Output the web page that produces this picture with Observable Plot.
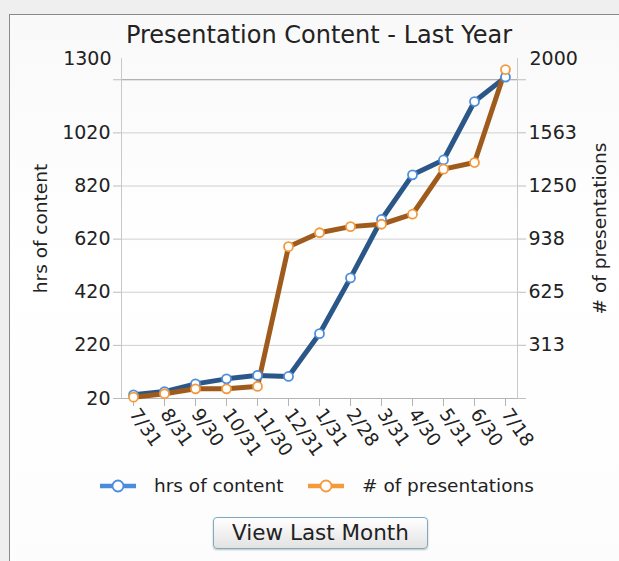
<!DOCTYPE html>
<html><head><meta charset="utf-8">
<script src="https://cdn.jsdelivr.net/npm/d3@7"></script>
<script src="https://cdn.jsdelivr.net/npm/@observablehq/plot@0.6"></script>
<style>
html,body{margin:0;padding:0;background:#efefef;font-family:"DejaVu Sans",Verdana,sans-serif;color:#222;}
#wrap{position:relative;width:619px;height:561px;overflow:hidden;}
#panel{position:absolute;left:9px;top:14px;width:660px;height:620px;border:1.5px solid #8a8a8a;background:linear-gradient(#f9f9f9,#ffffff 40%,#fcfcfc);}
#title{position:absolute;left:0;width:638px;top:21px;text-align:center;font-size:24px;line-height:28px;white-space:nowrap;}
#chart{position:absolute;left:0;top:50px;}
.leg{position:absolute;font-size:18.5px;line-height:22px;white-space:nowrap;}
.sw{position:absolute;}
#btn{position:absolute;left:213px;top:517px;width:215px;height:32px;box-sizing:border-box;border:1px solid #7fa9c0;border-radius:4px;background:linear-gradient(#ffffff,#f1f1f1 50%,#e2e2e2);box-shadow:0 1px 2px rgba(0,0,0,0.25);font-family:"DejaVu Sans",Verdana,sans-serif;font-size:21.5px;line-height:28px;color:#222;text-align:center;padding:0;}
</style>
</head><body>
<div id="wrap">
  <div id="panel"></div>
  <div id="title">Presentation Content - Last Year</div>
  <div id="chart"></div>
  <svg class="sw" style="left:99px;top:478px" width="38" height="16"><line x1="1" y1="8" x2="37" y2="8" stroke="#4a8bdb" stroke-width="4.5"/><circle cx="19" cy="8" r="5.5" fill="white" stroke="#4a8bdb" stroke-width="1.8"/></svg>
  <div class="leg" id="leg1" style="left:154px;top:475px">hrs of content</div>
  <svg class="sw" style="left:307px;top:478px" width="38" height="16"><line x1="1" y1="8" x2="37" y2="8" stroke="#f59a3c" stroke-width="4.5"/><circle cx="19" cy="8" r="5.5" fill="white" stroke="#f59a3c" stroke-width="1.8"/></svg>
  <div class="leg" id="leg2" style="left:362px;top:475px"># of presentations</div>
  <button id="btn">View Last Month</button>
</div>
<script>
const months = ["7/31","8/31","9/30","10/31","11/30","12/31","1/31","2/28","3/31","4/30","5/31","6/30","7/18"];
const hrsOfContent = [34,46,75,94,107,103,264,474,694,862,918,1138,1230];
const numPresentations = [8,28,57,57,71,893,975,1011,1025,1084,1349,1388,1935];
const leftTicks = [20,220,420,620,820,1020,1220];
const leftLabels = ["20","220","420","620","820","1020",""];
const leftMax = 1300;
const rightTicks = [0,313,625,938,1250,1563,1875];
const rightLabels = ["","313","625","938","1250","1563",""];
const rightMax = 2000;

const leftMin = leftTicks[0];
const toLeft = v => leftMin + v * (leftMax - leftMin) / rightMax;

const hrsData = months.map((m, i) => ({month: m, v: hrsOfContent[i]}));
const presData = months.map((m, i) => ({month: m, v: toLeft(numPresentations[i])}));
const leftFmt = new Map(leftTicks.map((t, i) => [t, leftLabels[i]]));
const rightConv = rightTicks.map(toLeft);
const rightFmt = new Map(rightConv.map((t, i) => [Math.round(t * 100), rightLabels[i]]));

const chart = Plot.plot({
  width: 619,
  height: 410,
  marginTop: 8,
  marginBottom: 62,
  marginLeft: 121,
  marginRight: 102,
  style: {fontFamily: "'DejaVu Sans', Verdana, sans-serif", fontSize: "19px", color: "#222", background: "transparent", overflow: "visible"},
  x: {type: "point", domain: months, padding: 0.22, label: null},
  y: {domain: [leftMin, leftMax], label: null},
  marks: [
    Plot.ruleY(leftTicks.slice(1, -1), {stroke: "#cfcfcf", strokeWidth: 1}),
    Plot.ruleY([leftTicks[leftTicks.length - 1]], {stroke: "#9a9a9a", strokeWidth: 1}),
    Plot.frame({anchor: "left", stroke: "#c9c9c9"}),
    Plot.frame({anchor: "right", stroke: "#c9c9c9"}),
    Plot.ruleY([leftMin], {stroke: "#b5b5b5"}),
    Plot.axisY(leftTicks, {anchor: "left", tickSize: 8, tickPadding: 3, stroke: "#bdbdbd", fill: "#222", fontSize: 19, tickFormat: d => leftFmt.get(d), label: null}),
    Plot.axisY([leftMax], {anchor: "left", tickSize: 0, tickPadding: 10, fill: "#222", fontSize: 19, tickFormat: d => String(d), label: null}),
    Plot.axisY(rightConv, {anchor: "right", tickSize: 8, tickPadding: 3, stroke: "#bdbdbd", fill: "#222", fontSize: 19, tickFormat: d => rightFmt.get(Math.round(d * 100)), label: null}),
    Plot.axisY([leftMax], {anchor: "right", tickSize: 0, tickPadding: 12, fill: "#222", fontSize: 19, tickFormat: () => String(rightMax), label: null}),
    Plot.axisX({tickSize: 8, tickPadding: 4, tickRotate: 55, stroke: "#b5b5b5", fill: "#222", fontSize: 18.5, label: null}),
    Plot.text(["hrs of content"], {frameAnchor: "left", textAnchor: "middle", dx: -80, rotate: -90, fill: "#222", fontSize: 18.5}),
    Plot.text(["# of presentations"], {frameAnchor: "right", textAnchor: "middle", dx: 83, rotate: -90, fill: "#222", fontSize: 18.5}),
    Plot.line(hrsData, {x: "month", y: "v", stroke: "#2a5788", strokeWidth: 5, strokeLinejoin: "round"}),
    Plot.line(presData, {x: "month", y: "v", stroke: "#9e5b1c", strokeWidth: 5, strokeLinejoin: "round"}),
    Plot.dot(hrsData, {x: "month", y: "v", r: 4.5, fill: "white", stroke: "#4d8fdc", strokeWidth: 1.8}),
    Plot.dot(presData, {x: "month", y: "v", r: 4.5, fill: "white", stroke: "#f59a3c", strokeWidth: 1.8})
  ]
});
document.getElementById("chart").appendChild(chart);
</script>
</body></html>
